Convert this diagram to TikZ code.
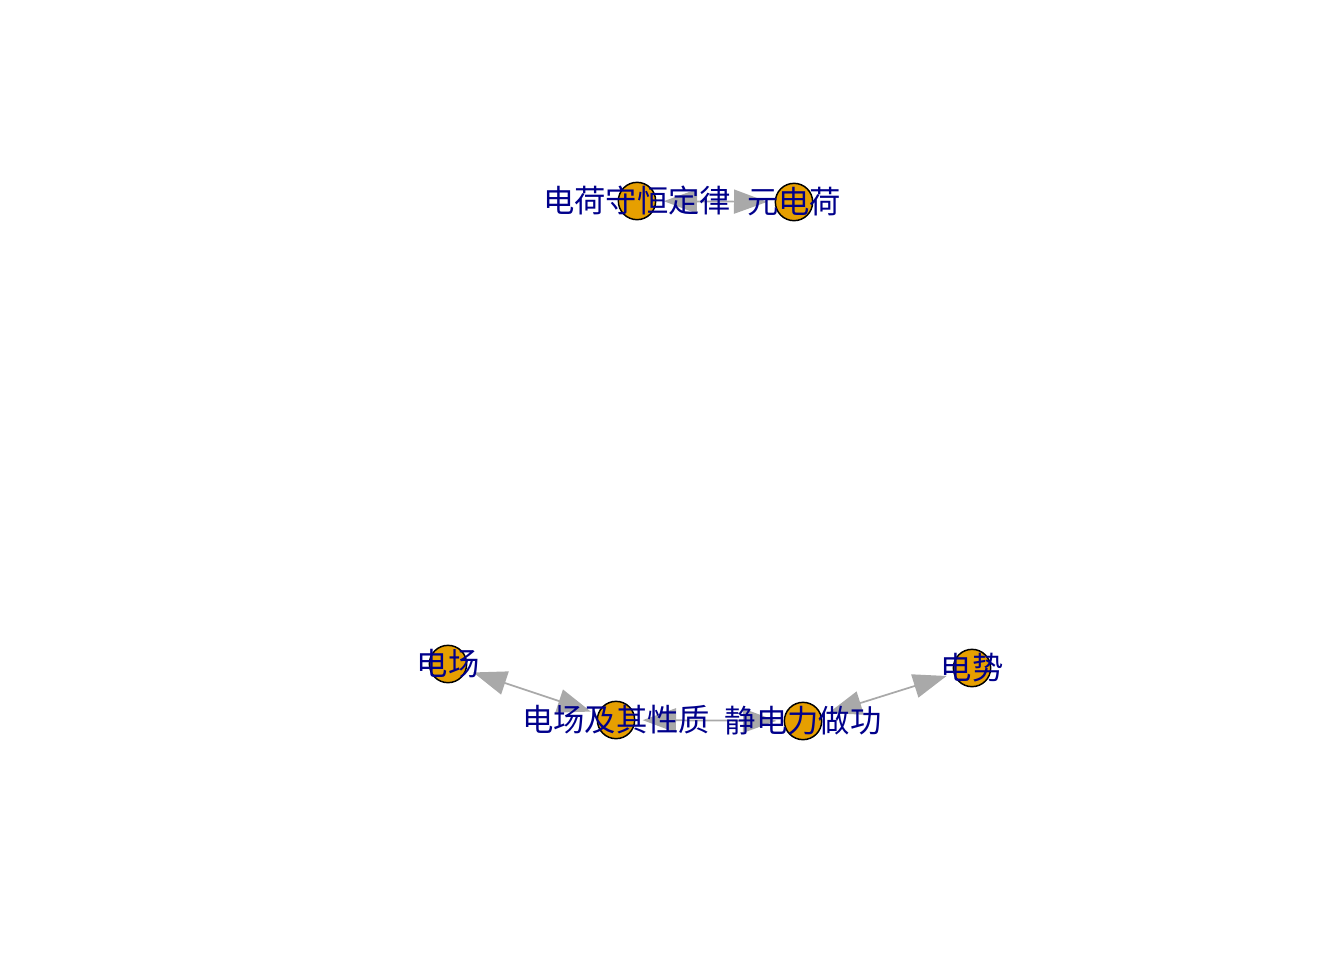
\documentclass[tikz,border=0pt]{standalone}
\usepackage{fontspec}
\newfontfamily\cjk{Noto Sans CJK SC}
\usetikzlibrary{arrows.meta,positioning}
\definecolor{vfill}{HTML}{E69F00}
\definecolor{lblblue}{HTML}{00008B}
\definecolor{edgegray}{HTML}{A9A9A9}

\begin{document}
\begin{tikzpicture}[x=0.75pt, y=-0.75pt,
  vtx/.style={circle, draw=black, line width=1.1pt, fill=vfill, minimum size=28pt, inner sep=0pt, outer sep=6pt},
  lbl/.style={text=lblblue, font=\cjk\fontsize{23.5}{23.5}\selectfont, inner sep=0pt},
  link/.style={draw=edgegray, line width=1.3pt, {Triangle[length=25pt,width=18pt]}-{Triangle[length=25pt,width=18pt]}}]
\useasboundingbox (0,0) rectangle (1344,960);

% vertices
\coordinate (p1) at (637, 201);
\coordinate (p2) at (794, 202);
\coordinate (p3) at (448, 664);
\coordinate (p4) at (616, 720);
\coordinate (p5) at (803, 721);
\coordinate (p6) at (972, 668);

% edges first, then circles on top
\node[vtx, draw=none, fill=none] (shou) at (p1) {};
\node[vtx, draw=none, fill=none] (yuan) at (p2) {};
\node[vtx, draw=none, fill=none] (chang) at (p3) {};
\node[vtx, draw=none, fill=none] (xingzhi) at (p4) {};
\node[vtx, draw=none, fill=none] (zuogong) at (p5) {};
\node[vtx, draw=none, fill=none] (shi) at (p6) {};

\draw[link] (shou) -- (yuan);
\draw[link] (chang) -- (xingzhi);
\draw[link] (xingzhi) -- (zuogong);
\draw[link] (zuogong) -- (shi);

\node[vtx] at (p1) {};
\node[vtx] at (p2) {};
\node[vtx] at (p3) {};
\node[vtx] at (p4) {};
\node[vtx] at (p5) {};
\node[vtx] at (p6) {};

% labels
\node[lbl] (l1) at (p1) {电荷守恒定律};
\node[lbl] (l2) at (p2) {元电荷};
\node[lbl] (l3) at (p3) {电场};
\node[lbl] (l4) at (p4) {电场及其性质};
\node[lbl] (l5) at (p5) {静电力做功};
\node[lbl] (l6) at (p6) {电势};
\end{tikzpicture}
\end{document}
